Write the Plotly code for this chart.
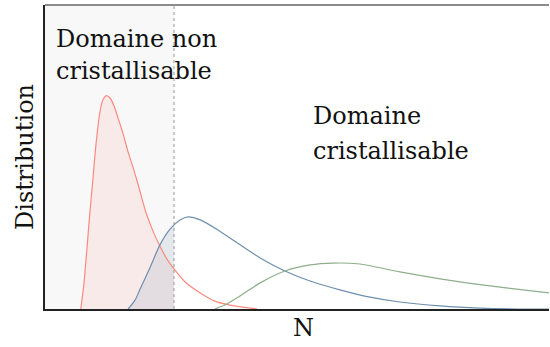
import numpy as np
import plotly.graph_objects as go

# Data (N in arbitrary units 0-100, distribution 0-100)
red_n = [7.1, 7.7, 8.3, 8.9, 9.4, 10.1, 10.9, 11.5, 12.2, 12.9, 13.7, 14.5, 15.5, 16.5,
         17.5, 18.5, 20.0, 21.4, 22.8, 24.2, 25.6, 27.8, 30.8, 33.7, 36.7, 42.1]
red_d = [0, 7.9, 19.4, 31.6, 40.8, 53.9, 64.8, 68.8, 70.2, 69.4, 66.8, 62.8, 57.6, 51.6,
         46.4, 40.8, 31.9, 25.7, 20.7, 16.4, 13.2, 8.9, 5.3, 2.6, 1.3, 0]

blue_n = [16.5, 17.9, 18.8, 20.8, 22.8, 24.8, 26.8, 28.4, 30.8, 34.3, 38.7, 42.7, 47.6,
          52.6, 58.5, 64.5, 70.4, 78.4, 86.3, 96.2, 100]
blue_d = [0, 3.0, 6.3, 13.5, 21.1, 26.3, 29.3, 30.3, 29.3, 26.0, 21.1, 16.8, 12.5,
          9.2, 6.3, 3.9, 2.3, 1.0, 0.3, 0, 0]

green_n = [33.7, 35.7, 38.7, 42.7, 47.6, 52.6, 57.1, 62.5, 70.4, 78.4, 83.7, 90.3, 100]
green_d = [0, 1.3, 4.3, 8.6, 12.5, 14.5, 15.1, 14.8, 12.2, 9.9, 8.6, 7.2, 5.3]

threshold = 25.6  # limit of the non-crystallisable domain

label_non_lines = ["Domaine non", "cristallisable"]
label_cri_lines = ["Domaine", "cristallisable"]
x_title = "N"
y_title = "Distribution"

RED = "#fa8a80"
BLUE = "#6f8fae"
GREEN = "#8fae8c"
FONT = "DejaVu Serif"
SMOOTH = 0.6


def clip(ns, ds, lim):
    n2 = [n for n in ns if n < lim]
    d2 = [d for n, d in zip(ns, ds) if n < lim]
    n2.append(lim)
    d2.append(float(np.interp(lim, ns, ds)))
    return n2, d2


fig = go.Figure()

rn, rd = clip(red_n, red_d, threshold)
bn, bd = clip(blue_n, blue_d, threshold)
fig.add_trace(go.Scatter(x=rn, y=rd, mode="lines",
                         line=dict(width=0, shape="spline", smoothing=SMOOTH),
                         fill="tozeroy", fillcolor="rgba(250,138,128,0.12)", hoverinfo="skip"))
fig.add_trace(go.Scatter(x=bn, y=bd, mode="lines",
                         line=dict(width=0, shape="spline", smoothing=SMOOTH),
                         fill="tozeroy", fillcolor="rgba(111,143,174,0.15)", hoverinfo="skip"))

for ns, ds, c in [(red_n, red_d, RED), (blue_n, blue_d, BLUE), (green_n, green_d, GREEN)]:
    fig.add_trace(go.Scatter(x=ns, y=ds, mode="lines",
                             line=dict(color=c, width=1.2, shape="spline", smoothing=SMOOTH)))

fig.add_shape(type="rect", xref="x", yref="paper", x0=0, x1=threshold, y0=0, y1=1,
              fillcolor="#f8f8f8", line=dict(width=0), layer="below")
fig.add_shape(type="line", xref="x", yref="paper", x0=threshold, x1=threshold, y0=0, y1=1,
              line=dict(color="#999999", width=1, dash="dot"), layer="above")
fig.add_shape(type="line", xref="paper", yref="paper", x0=0, x1=1, y0=1, y1=1,
              line=dict(color="#666666", width=1.5))

for lines, x0, ys in [(label_non_lines, 1.8, [94.2, 83.4]),
                      (label_cri_lines, 52.8, [68.6, 57.4])]:
    for txt, yy in zip(lines, ys):
        fig.add_annotation(x=x0, y=yy, xref="x", yref="y", xanchor="left", yanchor="top",
                           align="left", showarrow=False, text=txt,
                           font=dict(family=FONT, size=24, color="#111111"))

# x-axis title (slightly right of centre, as in the reference)
fig.add_annotation(x=51.2, y=0, xref="x", yref="paper", xanchor="center", yanchor="top",
                   yshift=-3, showarrow=False, text=x_title,
                   font=dict(family=FONT, size=24, color="#111111"))

fig.update_layout(
    width=550, height=347,
    margin=dict(l=45, r=1, t=5, b=38, autoexpand=False),
    paper_bgcolor="white", plot_bgcolor="white",
    showlegend=False,
    font=dict(family=FONT, size=24, color="#111111"),
)
fig.update_xaxes(range=[0, 100], showgrid=False, zeroline=False, showticklabels=False,
                 ticks="", showline=True, linecolor="#222222", linewidth=2, automargin=False)
fig.update_yaxes(range=[0, 100], showgrid=False, zeroline=False, showticklabels=False,
                 ticks="", showline=True, linecolor="#222222", linewidth=2, automargin=False,
                 title=dict(text=y_title, standoff=3, font=dict(family=FONT, size=24)))

fig.write_html("out.html", config={"displayModeBar": False},
               post_script="document.body.style.margin='0';document.body.style.padding='0';")
